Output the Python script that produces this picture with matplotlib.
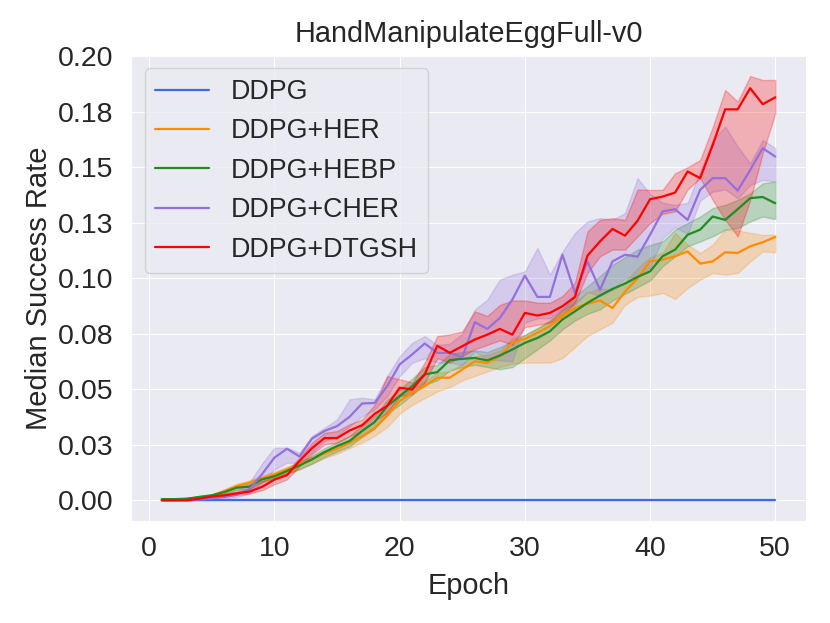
import numpy as np
import matplotlib
matplotlib.use("Agg")
import matplotlib.pyplot as plt
import seaborn as sns

# median success rate per epoch, with lower/upper bands
epochs = list(range(1, 51))

ddpg = [0.0, 0.0, 0.0, 0.0, 0.0, 0.0, 0.0, 0.0, 0.0, 0.0,
        0.0, 0.0, 0.0, 0.0, 0.0, 0.0, 0.0, 0.0, 0.0, 0.0,
        0.0, 0.0, 0.0, 0.0, 0.0, 0.0, 0.0, 0.0, 0.0, 0.0,
        0.0, 0.0, 0.0, 0.0, 0.0, 0.0, 0.0, 0.0, 0.0, 0.0,
        0.0, 0.0, 0.0, 0.0, 0.0, 0.0, 0.0, 0.0, 0.0, 0.0]

her = [.0003, .0004, .0006, .0012, .0020, .0041, .0064, .0079, .0099, .0117,
       .0139, .0162, .0184, .0211, .0232, .0259, .0289, .0325, .0380, .0447,
       .0484, .0514, .0552, .0552, .0589, .0626, .0619, .0649, .0709, .0727,
       .0754, .0784, .0829, .0866, .0885, .0900, .0866, .0940, .1000, .1076,
       .1084, .1099, .1121, .1066, .1076, .1117, .1114, .1144, .1162, .1186]
her_lo = [0, 0, .0003, .0008, .0015, .0030, .0050, .0065, .0085, .0100,
          .0120, .0140, .0165, .0190, .0210, .0235, .0260, .0290, .0330, .0390,
          .0430, .0460, .0490, .0510, .0540, .0560, .0580, .0600, .0615, .0620,
          .0620, .0620, .0640, .0690, .0740, .0770, .0800, .0880, .0916, .0922,
          .0934, .0907, .0956, .0994, .1024, .1016, .1024, .1076, .1121, .1117]
her_hi = [.0005, .0007, .0010, .0017, .0027, .0050, .0075, .0090, .0110, .0130,
          .0150, .0175, .0198, .0225, .0248, .0275, .0305, .0345, .0400, .0465,
          .0505, .0535, .0575, .0580, .0615, .0650, .0655, .0675, .0730, .0745,
          .0775, .0805, .0855, .0895, .0935, .0955, .0945, .0985, .1045, .1095,
          .1115, .1204, .1151, .1114, .1151, .1219, .1215, .1205, .1195, .1196]

hebp = [.0005, .0005, .0007, .0015, .0022, .0037, .0057, .0061, .0094, .0108,
        .0132, .0157, .0184, .0217, .0244, .0267, .0312, .0352, .0424, .0469,
        .0514, .0567, .0577, .0631, .0637, .0641, .0630, .0652, .0679, .0709,
        .0731, .0761, .0814, .0851, .0889, .0922, .0952, .0976, .1006, .1031,
        .1099, .1129, .1196, .1219, .1278, .1263, .1311, .1361, .1366, .1338]
hebp_lo = [.0003, .0003, .0005, .0010, .0017, .0030, .0047, .0052, .0082, .0095,
           .0118, .0140, .0165, .0195, .0220, .0243, .0285, .0322, .0390, .0430,
           .0475, .0520, .0540, .0585, .0600, .0610, .0600, .0590, .0600, .0640,
           .0680, .0720, .0770, .0810, .0840, .0860, .0900, .0930, .0960, .0990,
           .1054, .1099, .1144, .1166, .1189, .1219, .1226, .1256, .1278, .1267]
hebp_hi = [.0007, .0008, .0010, .0019, .0028, .0044, .0066, .0072, .0105, .0120,
           .0145, .0172, .0200, .0235, .0262, .0290, .0338, .0380, .0452, .0500,
           .0548, .0600, .0610, .0660, .0668, .0675, .0668, .0690, .0715, .0745,
           .0775, .0810, .0860, .0920, .0964, .1010, .1060, .1095, .1129, .1150,
           .1166, .1219, .1249, .1278, .1316, .1331, .1353, .1383, .1428, .1436]

cher = [0, 0, 0, .0003, .0008, .0015, .0025, .0050, .0117, .0192,
        .0232, .0197, .0278, .0312, .0334, .0376, .0436, .0438, .0514, .0612,
        .0657, .0706, .0664, .0664, .0644, .0802, .0772, .0821, .0904, .1012,
        .0916, .0916, .1106, .0934, .1076, .0948, .1076, .1106, .1097, .1196,
        .1301, .1311, .1263, .1398, .1451, .1451, .1395, .1488, .1586, .1548]
cher_lo = [0, 0, 0, 0, .0003, .0008, .0015, .0030, .0080, .0139,
           .0169, .0169, .0214, .0267, .0289, .0334, .0379, .0409, .0469, .0559,
           .0619, .0640, .0620, .0620, .0610, .0670, .0634, .0630, .0625, .0800,
           .0820, .0820, .0860, .0880, .0940, .0920, .0950, .1000, .1010, .1050,
           .1180, .1230, .1200, .1350, .1390, .1400, .1360, .1420, .1443, .1436]
cher_hi = [0, .0002, .0004, .0008, .0015, .0025, .0040, .0080, .0165, .0237,
           .0237, .0214, .0289, .0327, .0364, .0454, .0462, .0454, .0559, .0649,
           .0709, .0739, .0700, .0705, .0750, .0859, .0904, .0994, .1016, .1031,
           .1136, .1016, .1120, .1204, .1256, .1271, .1263, .1294, .1451, .1380,
           .1340, .1330, .1340, .1480, .1620, .1683, .1593, .1518, .1623, .1586]

dtgsh = [0, 0, 0, .0007, .0017, .0022, .0031, .0039, .0060, .0093,
         .0113, .0177, .0235, .0280, .0280, .0314, .0338, .0389, .0425, .0507,
         .0499, .0567, .0696, .0664, .0694, .0724, .0746, .0772, .0746, .0844,
         .0832, .0844, .0874, .0916, .1102, .1166, .1222, .1192, .1259, .1356,
         .1368, .1386, .1481, .1451, .1600, .1761, .1761, .1856, .1784, .1815]
dtgsh_lo = [0, 0, 0, .0003, .0012, .0016, .0024, .0030, .0045, .0072,
            .0094, .0154, .0207, .0252, .0259, .0289, .0312, .0357, .0394, .0469,
            .0479, .0530, .0640, .0620, .0650, .0680, .0700, .0720, .0700, .0780,
            .0790, .0800, .0830, .0890, .1024, .1099, .1129, .1129, .1189, .1249,
            .1290, .1301, .1400, .1451, .1353, .1263, .1189, .1353, .1563, .1743]
dtgsh_hi = [0, .0002, .0004, .0012, .0022, .0030, .0040, .0052, .0085, .0109,
            .0132, .0192, .0259, .0304, .0312, .0342, .0364, .0430, .0559, .0545,
            .0530, .0620, .0739, .0747, .0760, .0851, .0830, .0880, .0900, .0900,
            .0890, .0890, .0920, .0980, .1211, .1263, .1271, .1263, .1400, .1398,
            .1398, .1473, .1500, .1533, .1680, .1848, .1796, .1911, .1893, .1893]

labels = ['DDPG', 'DDPG+HER', 'DDPG+HEBP', 'DDPG+CHER', 'DDPG+DTGSH']
colors = ['royalblue', 'darkorange', 'forestgreen', 'mediumpurple', 'red']
medians = [ddpg, her, hebp, cher, dtgsh]
lows = [ddpg, her_lo, hebp_lo, cher_lo, dtgsh_lo]
highs = [ddpg, her_hi, hebp_hi, cher_hi, dtgsh_hi]

ytick_vals = [0.0, 0.025, 0.05, 0.075, 0.1, 0.125, 0.15, 0.175, 0.2]
ytick_labels = ['0.00', '0.03', '0.05', '0.08', '0.10', '0.13', '0.15', '0.18', '0.20']

sns.set_style('darkgrid')
plt.rcParams['font.family'] = ['Liberation Sans', 'DejaVu Sans']

fig = plt.figure(figsize=(8.3, 6.23), dpi=100)
ax = fig.add_axes([0.158, 0.163, 0.813, 0.749])

for med, lo, hi, lab, col in zip(medians, lows, highs, labels, colors):
    ax.plot(epochs, med, color=col, label=lab, linewidth=1.6)
    ax.fill_between(epochs, lo, hi, color=col, alpha=0.25)

ax.set_yticks(ytick_vals)
ax.set_yticklabels(ytick_labels)
ax.set_title('HandManipulateEggFull-v0', fontsize=20.8, pad=9)
ax.set_xlabel('Epoch', fontsize=20.8, labelpad=7)
ax.set_ylabel('Median Success Rate', fontsize=21)
ax.tick_params(axis='y', labelsize=20.5, pad=9)
ax.tick_params(axis='x', labelsize=20.5, pad=7)
ax.legend(loc='upper left', fontsize=19.3)

plt.savefig('out.png', dpi=100)
